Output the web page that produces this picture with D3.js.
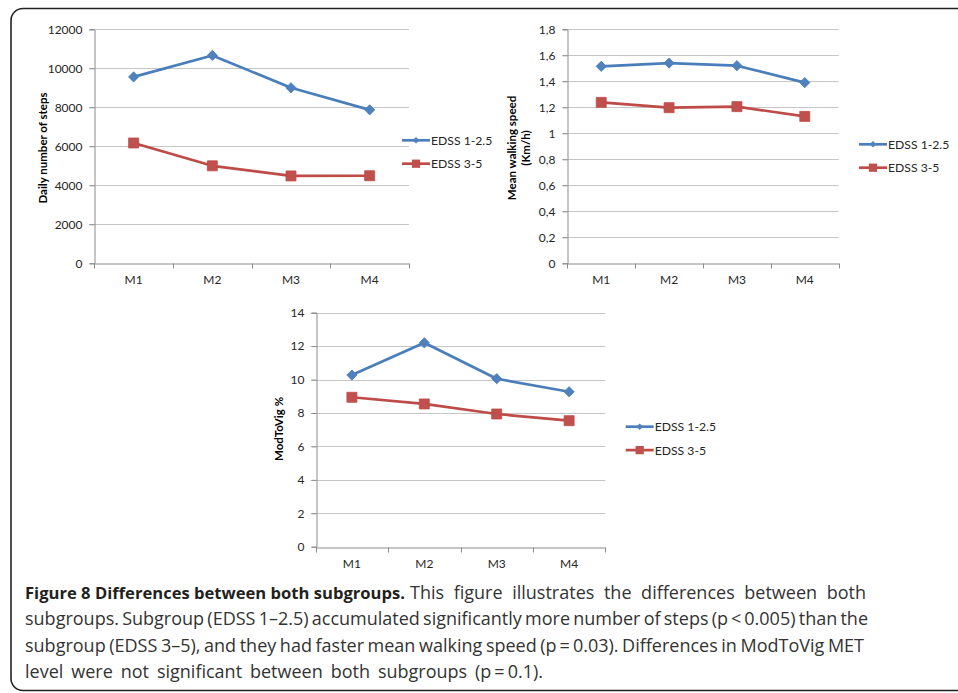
<!DOCTYPE html>
<html>
<head>
<meta charset="utf-8">
<script src="https://cdnjs.cloudflare.com/ajax/libs/d3/7.8.4/d3.min.js"></script>
<style>
  html, body { margin: 0; padding: 0; background: #fff; }
  svg { display: block; }
</style>
</head>
<body>
<div id="figure"></div>
<script>
// donnees
const months = ["M1", "M2", "M3", "M4"];
const seriesNames = ["EDSS 1-2.5", "EDSS 3-5"];

const stepsMild = [9560, 10660, 9000, 7870];
const stepsModerate = [6170, 5000, 4480, 4490];
const stepsTicks = [0, 2000, 4000, 6000, 8000, 10000, 12000];
const stepsTickLabels = ["0", "2000", "4000", "6000", "8000", "10000", "12000"];

const speedMild = [1.515, 1.54, 1.52, 1.39];
const speedModerate = [1.238, 1.197, 1.205, 1.13];
const speedTicks = [0, 0.2, 0.4, 0.6, 0.8, 1, 1.2, 1.4, 1.6, 1.8];
const speedTickLabels = ["0", "0,2", "0,4", "0,6", "0,8", "1", "1,2", "1,4", "1,6", "1,8"];

const modToVigMild = [10.27, 12.2, 10.05, 9.27];
const modToVigModerate = [8.94, 8.54, 7.94, 7.54];
const modToVigTicks = [0, 2, 4, 6, 8, 10, 12, 14];
const modToVigTickLabels = ["0", "2", "4", "6", "8", "10", "12", "14"];

const captionBold = "Figure 8 Differences between both subgroups.";
const captionLines = [
  "This figure illustrates the differences between both",
  "subgroups. Subgroup (EDSS 1\u20132.5) accumulated significantly more number of steps (p\u2009<\u20090.005) than the",
  "subgroup (EDSS 3\u20135), and they had faster mean walking speed (p\u2009=\u20090.03). Differences in ModToVig MET",
  "level were not significant between both subgroups (p\u2009=\u20090.1)."
];
// fin de ligne mesuree sur l'image
const captionLineEnds = [866, 868, 864, 543];

const W = 958, H = 693;
const blue = "#4a7ebb", red = "#be4b48";
const blueFill = "#4f81bd", redFill = "#c0504d";
const font = "Lato, 'Open Sans', sans-serif";

const svg = d3.select("#figure").append("svg")
  .attr("width", W).attr("height", H);

// cadre arrondi
svg.append("rect")
  .attr("x", 11).attr("y", 8.5)
  .attr("width", 980).attr("height", 682)
  .attr("rx", 12).attr("ry", 12)
  .attr("fill", "none")
  .attr("stroke", "#222").attr("stroke-width", 1.6);

const drawChart = (cfg) => {
  const g = svg.append("g");

  const x = d3.scaleBand().domain(months).range([cfg.left, cfg.right]);
  const y = d3.scaleLinear()
    .domain([0, d3.max(cfg.ticks)])
    .range([cfg.bottom, cfg.top]);

  // grille
  g.append("g").selectAll("line")
    .data(cfg.ticks.filter((d) => d > 0))
    .join("line")
    .attr("x1", cfg.left - 5).attr("x2", cfg.right)
    .attr("y1", (d) => Math.round(y(d)) + 0.5)
    .attr("y2", (d) => Math.round(y(d)) + 0.5)
    .attr("stroke", "#c6c6c6").attr("stroke-width", 1);

  // axe Y
  const yAxis = d3.axisLeft(y)
    .tickValues(cfg.ticks)
    .tickSize(5)
    .tickPadding(7)
    .tickFormat((d, i) => cfg.tickLabels[i]);
  const gy = g.append("g")
    .attr("transform", `translate(${Math.round(cfg.left) + 0.5},0)`)
    .call(yAxis);
  gy.select(".domain").attr("stroke", "#8c8c8c");
  gy.selectAll(".tick line").attr("stroke", "#8c8c8c");
  gy.selectAll(".tick text")
    .attr("font-family", font).attr("font-size", 12).attr("fill", "#262626");

  // axe X
  const xAxis = d3.axisBottom(x).tickSize(0).tickPadding(12);
  const gx = g.append("g")
    .attr("transform", `translate(0,${Math.round(cfg.bottom) + 0.5})`)
    .call(xAxis);
  gx.select(".domain").attr("stroke", "#8c8c8c");
  gx.selectAll(".tick text")
    .attr("font-family", font).attr("font-size", 12).attr("fill", "#262626");
  // petites graduations entre les categories
  gx.append("g").selectAll("line")
    .data(months.map((m) => x(m)).concat([x(months[3]) + x.bandwidth()]))
    .join("line")
    .attr("x1", (d) => Math.round(d) + 0.5).attr("x2", (d) => Math.round(d) + 0.5)
    .attr("y1", 0).attr("y2", 5)
    .attr("stroke", "#8c8c8c");

  // titre de l'axe Y
  const title = g.append("text")
    .attr("transform", `translate(${cfg.titleX},${cfg.titleY}) rotate(-90)`)
    .attr("text-anchor", "middle")
    .attr("font-family", font).attr("font-size", 11.5).attr("font-weight", "bold")
    .attr("fill", "#000");
  cfg.title.forEach((t, i) => {
    title.append("tspan")
      .attr("x", 0)
      .attr("dy", i === 0 ? "0.35em" : "1.2em")
      .text(t);
  });

  // courbes
  const line = d3.line()
    .x((d, i) => x(months[i]) + x.bandwidth() / 2)
    .y((d) => y(d));

  const series = [
    { name: seriesNames[0], values: cfg.mild, color: blue, fill: blueFill, rot: 45, size: 52, legendSize: 22 },
    { name: seriesNames[1], values: cfg.moderate, color: red, fill: redFill, rot: 0, size: 100, legendSize: 68 }
  ];

  series.forEach((s) => {
    g.append("path")
      .datum(s.values)
      .attr("fill", "none")
      .attr("stroke", s.color)
      .attr("stroke-width", 2.7)
      .attr("stroke-linejoin", "round")
      .attr("d", line);
    g.append("g").selectAll("path")
      .data(s.values)
      .join("path")
      .attr("transform", (d, i) =>
        `translate(${x(months[i]) + x.bandwidth() / 2},${y(d)}) rotate(${s.rot})`)
      .attr("d", d3.symbol(d3.symbolSquare, s.size))
      .attr("fill", s.fill)
      .attr("stroke", s.color)
      .attr("stroke-width", 0.8);
  });

  // legende
  const legend = g.append("g")
    .attr("transform", `translate(${cfg.legendX},${cfg.legendY})`);
  series.forEach((s, i) => {
    const item = legend.append("g").attr("transform", `translate(0,${i * 23.4})`);
    item.append("line")
      .attr("x1", 0).attr("x2", 28)
      .attr("stroke", s.color).attr("stroke-width", 2.7);
    item.append("path")
      .attr("transform", `translate(14,0) rotate(${s.rot})`)
      .attr("d", d3.symbol(d3.symbolSquare, s.legendSize))
      .attr("fill", s.fill);
    item.append("text")
      .attr("x", 29).attr("dy", "0.36em")
      .attr("font-family", font).attr("font-size", 12.2)
      .attr("fill", "#262626")
      .text(s.name);
  });
};

drawChart({
  mild: stepsMild, moderate: stepsModerate,
  ticks: stepsTicks, tickLabels: stepsTickLabels,
  title: ["Daily number of steps"],
  left: 94.3, right: 409, top: 29.3, bottom: 263.3,
  titleX: 43, titleY: 148, legendX: 402, legendY: 140.3
});

drawChart({
  mild: speedMild, moderate: speedModerate,
  ticks: speedTicks, tickLabels: speedTickLabels,
  title: ["Mean walking speed", "(Km/h)"],
  left: 567.3, right: 838.7, top: 29.3, bottom: 263.3,
  titleX: 512, titleY: 148, legendX: 859, legendY: 144.3
});

drawChart({
  mild: modToVigMild, moderate: modToVigModerate,
  ticks: modToVigTicks, tickLabels: modToVigTickLabels,
  title: ["ModToVig %"],
  left: 315.7, right: 605.3, top: 312.7, bottom: 546.7,
  titleX: 279, titleY: 429, legendX: 625.7, legendY: 426.7
});

// legende de la figure
const caption = svg.append("g")
  .attr("font-family", "'Open Sans', sans-serif")
  .attr("font-size", 18)
  .attr("fill", "#231f20");

const capLeft = 25;
const boldText = caption.append("text")
  .attr("x", capLeft).attr("y", 599)
  .attr("font-weight", "bold")
  .attr("font-size", 16.6)
  .text(captionBold);
const boldEnd = capLeft + boldText.node().getComputedTextLength();

captionLines.forEach((t, i) => {
  const yPos = 599 + i * 26.3;
  const start = i === 0 ? boldEnd + 5 : capLeft;
  const txt = caption.append("text")
    .attr("x", start).attr("y", yPos)
    .attr("fill", "#333")
    .text(t);
  // ajustement par l'espace entre les mots
  const len = txt.node().getComputedTextLength();
  const spaces = (t.match(/ /g) || []).length;
  const ws = (captionLineEnds[i] - start - len) / spaces;
  txt.attr("word-spacing", ws);
});
</script>
</body>
</html>
